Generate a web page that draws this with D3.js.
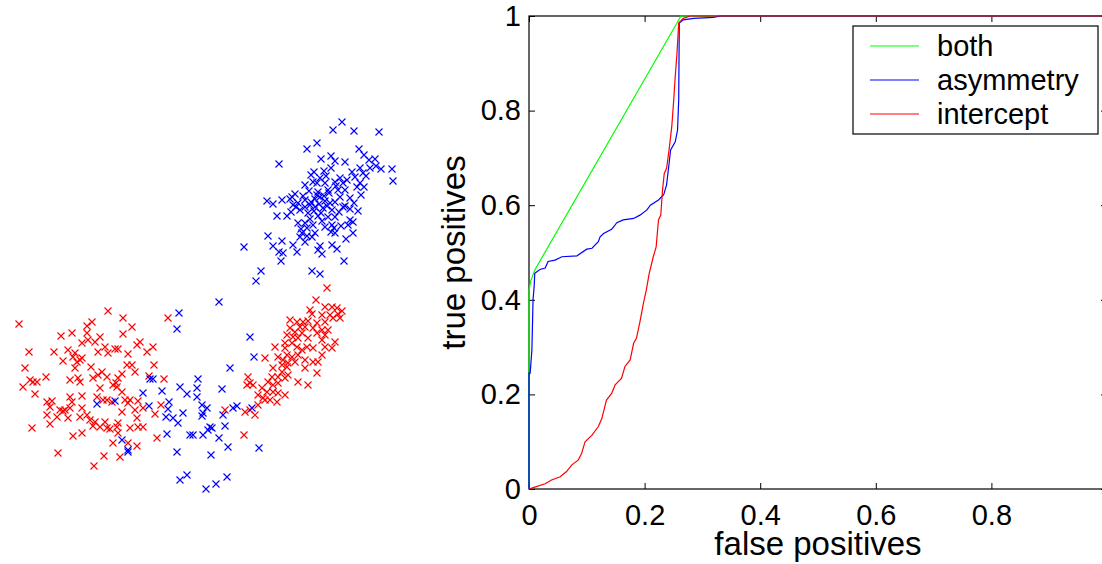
<!DOCTYPE html>
<html>
<head>
<meta charset="utf-8">
<script src="https://cdn.jsdelivr.net/npm/d3@7"></script>
<style>
  body { margin: 0; background: #fff; }
  svg { display: block; }
  text { font-family: "Liberation Sans", Arial, Helvetica, sans-serif; fill: #000; }
</style>
</head>
<body>
<svg id="chart" width="1102" height="564"></svg>
<script>
// ---- Feature-space scatter: two classes (feature 1, feature 2) ----
const redPoints = [
  [31.2,20.7],[30.1,19.5],[31.0,18.8],[31.7,18.8],[32.2,18.7],[32.7,18.4],[29.5,18.5],[29.7,18.1],[30.7,18.0],[31.5,18.0],
  [31.8,17.7],[32.5,17.7],[32.3,18.1],[27.5,17.5],[28.2,17.3],[28.8,17.3],[29.3,17.4],[30.2,17.2],[31.0,17.3],[28.5,16.8],
  [29.0,16.8],[29.8,16.7],[30.7,16.5],[31.3,16.5],[27.5,16.7],[28.0,16.3],[28.7,16.2],[30.2,16.2],[27.2,16.0],[27.8,15.8],
  [28.3,15.7],[29.3,15.7],[31.0,16.0],[30.7,15.5],[32.0,15.3],[27.0,15.2],[27.7,15.2],[29.2,14.8],[29.8,14.7],[26.0,14.8],
  [27.0,14.7],[28.2,14.8],[28.7,14.5],[31.0,14.8],[31.7,14.7],[27.2,14.0],[27.7,13.8],[28.3,14.0],[26.3,13.8],[30.7,14.0],
  [25.0,13.7],[26.8,13.5],[27.3,13.2],[28.0,13.3],[29.0,13.5],[29.8,13.3],[30.3,13.3],[26.7,13.0],[27.2,12.8],[29.0,12.7],
  [25.8,12.7],[26.7,12.3],[27.3,12.0],[26.3,11.8],[30.2,12.2],[25.7,11.8],[27.0,11.7],[23.3,11.8],[23.5,11.2],[23.8,11.0],
  [23.2,11.0],[25.3,11.3],[25.8,11.0],[26.3,11.2],[28.3,11.3],[29.3,11.0],[24.7,10.7],[25.2,10.3],[25.8,10.3],[26.3,10.2],
  [27.0,10.0],[24.3,10.0],[24.8,9.7],[25.5,9.5],[26.2,9.3],[24.3,9.0],[23.5,8.5],[23.0,8.3],[25.0,9.5],
  [9.3,18.4],[0.4,17.1],[10.8,17.7],[7.7,17.3],[7.2,16.9],[11.7,16.8],[5.7,16.2],[4.6,15.9],[10.8,16.1],[7.2,16.2],
  [8.5,15.8],[7.3,15.5],[6.7,15.2],[8.0,15.3],[9.0,14.8],[12.2,15.0],[12.5,15.3],[13.8,14.8],[1.4,14.3],[3.9,14.3],
  [5.3,14.5],[6.0,14.2],[8.3,14.3],[9.3,14.2],[10.0,14.6],[10.3,14.6],[13.2,14.3],[11.3,14.1],[5.8,13.8],[6.5,13.5],
  [6.2,13.3],[4.8,13.4],[6.7,13.7],[11.2,13.0],[11.7,13.0],[13.9,13.0],[1.0,12.7],[6.0,12.7],[7.6,12.8],[8.7,12.3],
  [12.0,12.3],[10.7,12.1],[3.1,11.8],[1.5,11.5],[1.8,11.3],[2.2,11.3],[5.5,11.5],[6.3,11.7],[6.5,11.3],[7.8,11.7],
  [8.3,12.0],[9.2,11.8],[10.3,11.7],[10.1,11.2],[0.8,10.8],[2.0,10.1],[8.5,10.7],[9.8,11.0],[10.2,10.8],[10.7,10.3],
  [6.7,9.9],[5.5,9.8],[8.2,9.8],[9.2,9.5],[9.7,9.3],[11.0,9.5],[11.5,9.5],[12.3,9.4],[11.3,9.2],[3.2,9.3],
  [3.7,9.4],[5.7,9.3],[3.5,8.8],[4.5,8.5],[4.8,8.4],[5.5,8.7],[6.7,8.7],[14.0,8.1],[10.7,8.3],[12.0,8.5],
  [12.8,8.7],[3.2,8.0],[4.2,7.8],[5.3,7.7],[6.5,7.8],[7.2,8.0],[3.5,7.1],[8.0,7.3],[9.0,7.3],[10.3,7.2],
  [12.2,7.7],[1.7,6.7],[7.8,6.9],[8.5,6.8],[9.2,6.7],[9.5,6.6],[10.2,6.8],[11.5,6.7],[12.3,6.8],[12.8,6.8],
  [5.8,5.9],[6.7,6.2],[10.3,6.2],[14.2,5.7],[9.8,5.2],[11.3,5.2],[12.2,4.9],[4.3,4.2],[8.9,3.9],[10.5,3.8],
  [7.9,2.9],[8.8,9.5],[5.0,8.5],[7.5,7.5],
  [15.3,17.7],[13.4,11.9],[14.9,11.6],[14.6,9.0],[21.0,8.5],[22.9,6.0],[24.0,8.0]
];

const bluePoints = [
  [32.7,37.3],[31.8,36.5],[33.9,36.4],[36.4,36.3],[30.2,35.2],[29.2,34.6],[34.4,34.6],[26.4,33.1],[30.6,33.6],[31.6,33.9],
  [32.0,33.4],[34.9,34.0],[35.4,33.5],[36.0,33.6],[33.0,33.3],[36.6,32.6],[37.7,32.6],[37.8,31.4],[34.5,32.7],[35.5,32.7],
  [33.7,32.3],[31.6,32.7],[30.9,32.4],[29.9,32.3],[29.6,32.0],[34.0,31.8],[32.5,31.7],[30.5,31.7],[31.0,31.2],[32.0,31.3],
  [32.8,31.2],[34.5,31.2],[34.2,30.8],[33.0,30.5],[32.3,30.5],[31.3,30.5],[30.3,30.3],[34.6,30.0],[33.5,29.7],[32.5,29.8],
  [28.0,30.1],[25.2,29.4],[25.8,29.1],[26.7,29.5],[27.5,29.6],[27.8,29.0],[28.3,29.2],[29.0,29.5],[29.5,29.0],[30.0,29.6],
  [30.5,29.8],[31.0,29.4],[31.5,29.2],[32.0,29.3],[29.0,28.8],[30.0,28.8],[30.8,28.7],[31.7,28.5],[32.8,28.8],[33.5,28.6],
  [33.0,28.9],[28.5,28.5],[26.2,27.9],[27.2,27.9],[29.3,28.2],[30.3,27.9],[31.3,27.8],[32.0,27.8],[33.5,27.5],[33.8,27.3],
  [29.0,27.2],[29.8,27.0],[28.3,27.2],[31.0,26.8],[31.7,27.0],[33.3,27.0],[33.8,26.2],[31.6,26.3],[32.0,26.2],[29.2,26.7],
  [28.7,26.2],[29.7,25.8],[30.0,26.2],[28.5,25.8],[29.0,25.3],[25.3,25.9],[26.7,25.4],[25.8,24.9],[22.9,24.8],[27.8,25.0],
  [28.2,24.3],[26.4,24.3],[26.8,24.2],[26.6,23.4],[30.5,24.9],[30.7,24.1],[30.3,24.5],[31.7,25.0],[32.2,24.6],[32.9,23.4],
  [24.6,22.4],[24.1,21.4],[29.7,22.4],[30.5,22.1],[27.7,29.8],[29.8,31.3],[34.8,32.2],
  [28.8,29.9],[29.4,30.4],[30.2,30.0],[30.9,29.9],[31.4,30.2],[29.6,29.3],[30.4,29.1],[31.2,28.9],[28.1,28.8],[29.9,28.4],
  [30.6,28.2],[32.4,28.3],[31.9,26.7],[32.6,26.9],[29.5,27.6],[30.7,27.4],[27.6,28.3],[33.9,29.2],[32.1,30.9],[33.2,31.5],
  [31.1,31.9],[30.2,31.2],[34.9,30.8],[33.1,25.6],[28.6,26.6],[29.2,25.9],[34.3,28.4],[35.1,31.9],[36.1,32.9],[29.0,31.0],
  [20.4,19.3],[16.4,18.2],[16.2,16.6],[23.5,15.8],[23.9,13.8],[21.5,12.7],[18.3,11.6],[13.5,11.6],[13.8,11.6],[16.5,10.8],
  [18.2,10.7],[14.7,10.4],[17.2,10.1],[20.7,10.6],[12.8,10.2],[18.2,9.8],[15.4,9.3],[13.4,8.9],[18.7,9.0],[19.2,8.7],
  [15.3,8.6],[16.8,8.2],[18.8,8.2],[18.7,7.9],[15.1,7.8],[15.8,7.7],[16.3,7.2],[20.8,8.0],[21.8,8.7],[22.2,8.9],
  [23.7,8.7],[21.0,6.9],[19.5,6.8],[19.3,6.5],[19.7,6.7],[15.2,6.1],[17.5,6.0],[17.8,6.0],[18.8,6.0],[20.4,5.7],
  [21.3,4.8],[24.4,4.7],[16.2,4.3],[19.6,4.0],[17.2,2.0],[16.5,1.5],[21.2,1.8],[20.1,1.1],[19.1,0.6],
  [8.2,9.1],[10.0,9.4],[10.7,5.5],[11.3,4.5],[11.3,4.3]
];

// ---- ROC curves: [false positive rate, true positive rate] ----
const rocBoth = [
  [0,0],[0,0.42],[0.003,0.44],[0.010,0.463],[0.263,1.0],[1,1]
];
const rocAsymmetry = [
  [0,0],[0,0.245],[0.002,0.245],[0.005,0.294],[0.006,0.347],[0.007,0.400],[0.009,0.430],[0.010,0.456],[0.019,0.464],[0.028,0.467],
  [0.033,0.481],[0.045,0.484],[0.057,0.491],[0.083,0.493],[0.100,0.507],[0.109,0.509],[0.120,0.523],[0.123,0.533],[0.129,0.540],[0.143,0.549],
  [0.152,0.563],[0.163,0.569],[0.181,0.572],[0.192,0.579],[0.204,0.590],[0.210,0.600],[0.224,0.611],[0.233,0.622],[0.238,0.643],[0.241,0.674],
  [0.245,0.717],[0.253,0.734],[0.257,0.759],[0.259,0.822],[0.260,0.985],[0.267,0.992],[0.285,0.995],[0.319,0.997],[0.331,1.0],[1,1]
];
const rocIntercept = [
  [0,0],[0.010,0.004],[0.028,0.011],[0.039,0.019],[0.054,0.026],[0.065,0.037],[0.074,0.051],[0.085,0.061],[0.091,0.075],[0.097,0.100],
  [0.109,0.114],[0.120,0.132],[0.126,0.149],[0.134,0.188],[0.143,0.202],[0.149,0.220],[0.160,0.234],[0.166,0.259],[0.175,0.273],[0.181,0.308],
  [0.186,0.319],[0.192,0.354],[0.198,0.393],[0.203,0.421],[0.208,0.456],[0.215,0.491],[0.220,0.512],[0.224,0.569],[0.228,0.579],[0.231,0.632],
  [0.234,0.667],[0.238,0.678],[0.240,0.696],[0.243,0.724],[0.247,0.766],[0.250,0.816],[0.253,0.872],[0.256,0.921],[0.259,0.985],[0.267,0.995],
  [0.279,1.0],[1,1]
];

const seriesNames = ["both", "asymmetry", "intercept"];
const seriesColors = ["#00ff00", "#0000ff", "#ff0000"];
const xTickValues = [0, 0.2, 0.4, 0.6, 0.8];
const yTickValues = [0, 0.2, 0.4, 0.6, 0.8, 1];
const xLabel = "false positives";
const yLabel = "true positives";

const svg = d3.select("#chart");

// ---------- left panel: scatter of the two classes ----------
const sx = d3.scaleLinear().domain([0, 38]).range([15, 395]);
const sy = d3.scaleLinear().domain([0, 38]).range([495, 115]);
const cross = "M-3.5,-3.5L3.5,3.5M-3.5,3.5L3.5,-3.5";

const scatter = svg.append("g").attr("class", "scatter");
[[redPoints, "#ff0000"], [bluePoints, "#0000ff"]].forEach(([pts, col]) => {
  scatter.append("g")
    .selectAll("path")
    .data(pts)
    .join("path")
    .attr("transform", d => `translate(${sx(d[0])},${sy(d[1])})`)
    .attr("d", cross)
    .attr("fill", "none")
    .attr("stroke", col)
    .attr("stroke-width", 1.1);
});

// ---------- right panel: ROC curves ----------
const plot = { left: 529, right: 1107, top: 16, bottom: 489 };
const x = d3.scaleLinear().domain([0, 1]).range([plot.left, plot.right]);
const y = d3.scaleLinear().domain([0, 1]).range([plot.bottom, plot.top]);
const tickLen = 6;
const fmt = d3.format("~g");

const roc = svg.append("g").attr("class", "roc");

// bottom axis with inward ticks
const xAxis = roc.append("g")
  .attr("transform", `translate(0,${plot.bottom})`)
  .call(d3.axisBottom(x).tickValues(xTickValues).tickFormat(fmt)
    .tickSizeInner(-tickLen).tickSizeOuter(0).tickPadding(15));
// mirrored top ticks
roc.append("g")
  .attr("transform", `translate(0,${plot.top})`)
  .call(d3.axisTop(x).tickValues(xTickValues.concat([1])).tickFormat("")
    .tickSizeInner(-tickLen).tickSizeOuter(0));
// left axis
const yAxis = roc.append("g")
  .attr("transform", `translate(${plot.left},0)`)
  .call(d3.axisLeft(y).tickValues(yTickValues).tickFormat(fmt)
    .tickSizeInner(-tickLen).tickSizeOuter(0).tickPadding(8));
// mirrored right ticks
roc.append("g")
  .attr("transform", `translate(${plot.right},0)`)
  .call(d3.axisRight(y).tickValues(yTickValues).tickFormat("")
    .tickSizeInner(-tickLen).tickSizeOuter(0));

roc.selectAll(".domain").remove();
roc.selectAll(".tick line").attr("stroke", "#000").attr("stroke-width", 1);
[xAxis, yAxis].forEach(a => a.selectAll("text")
  .attr("fill", "#000")
  .style("font-size", "29px")
  .style("font-family", '"Liberation Sans", Arial, sans-serif'));

// axes box
roc.append("rect")
  .attr("x", plot.left).attr("y", plot.top)
  .attr("width", plot.right - plot.left).attr("height", plot.bottom - plot.top)
  .attr("fill", "none").attr("stroke", "#000").attr("stroke-width", 1.2);

// curves
const line = d3.line().x(d => x(d[0])).y(d => y(d[1]));
[rocBoth, rocAsymmetry, rocIntercept].forEach((series, i) => {
  roc.append("path")
    .datum(series)
    .attr("d", line)
    .attr("fill", "none")
    .attr("stroke", seriesColors[i])
    .attr("stroke-width", 1.2);
});

// axis labels
roc.append("text")
  .attr("x", (plot.left + plot.right) / 2)
  .attr("y", 555)
  .attr("text-anchor", "middle")
  .style("font-size", "33px")
  .text(xLabel);
roc.append("text")
  .attr("transform", `translate(465,${(plot.top + plot.bottom) / 2}) rotate(-90)`)
  .attr("text-anchor", "middle")
  .style("font-size", "33px")
  .text(yLabel);

// legend
const legend = roc.append("g").attr("class", "legend");
legend.append("rect")
  .attr("x", 853).attr("y", 26).attr("width", 245).attr("height", 108)
  .attr("fill", "#fff").attr("stroke", "#000").attr("stroke-width", 1.2);
seriesNames.forEach((name, i) => {
  const ly = 46 + i * 34;
  legend.append("line")
    .attr("x1", 870).attr("x2", 919).attr("y1", ly).attr("y2", ly)
    .attr("stroke", seriesColors[i]).attr("stroke-width", 1.2);
  legend.append("text")
    .attr("x", 937).attr("y", ly).attr("dy", "0.36em")
    .style("font-size", "29px")
    .text(name);
});
</script>
</body>
</html>
